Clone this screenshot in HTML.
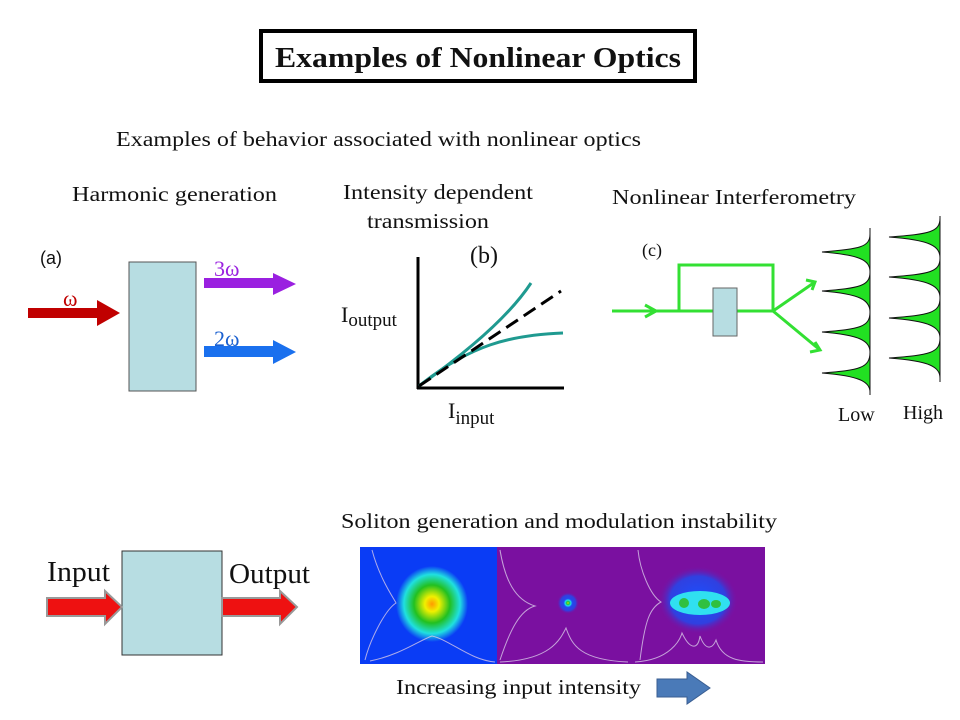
<!DOCTYPE html>
<html><head><meta charset="utf-8"><style>
html,body{margin:0;padding:0;background:#fff;width:960px;height:720px;overflow:hidden}
svg{display:block}
text{font-family:"Liberation Serif",serif;fill:#111}
</style></head><body>
<svg width="960" height="720" viewBox="0 0 960 720" xmlns="http://www.w3.org/2000/svg">
<defs>
<radialGradient id="g1" cx="0.5" cy="0.5" r="0.5">
<stop offset="0" stop-color="#ff9a00"/><stop offset="0.2" stop-color="#f0f000"/><stop offset="0.5" stop-color="#22c020"/><stop offset="0.78" stop-color="#20e0e0"/><stop offset="1" stop-color="#0a3cf5"/>
</radialGradient>
<radialGradient id="g2" cx="0.5" cy="0.5" r="0.5">
<stop offset="0" stop-color="#e0e000"/><stop offset="0.3" stop-color="#20c040"/><stop offset="0.6" stop-color="#20e0f0"/><stop offset="1" stop-color="#1030ff" stop-opacity="0"/>
</radialGradient>
<radialGradient id="g3" cx="0.5" cy="0.5" r="0.5">
<stop offset="0" stop-color="#1a50ff"/><stop offset="0.7" stop-color="#3040e0"/><stop offset="1" stop-color="#7a10a0" stop-opacity="0"/>
</radialGradient>
</defs>

<!-- title -->
<rect x="261" y="31" width="434" height="50" fill="#fff" stroke="#000" stroke-width="4"/>
<text x="478" y="67" font-size="29" font-weight="bold" text-anchor="middle" textLength="406" lengthAdjust="spacingAndGlyphs">Examples of Nonlinear Optics</text>

<text x="116" y="146" font-size="21" textLength="525" lengthAdjust="spacingAndGlyphs">Examples of behavior associated with nonlinear optics</text>
<text x="72" y="201" font-size="21" textLength="205" lengthAdjust="spacingAndGlyphs">Harmonic generation</text>
<text x="343" y="199" font-size="21" textLength="190" lengthAdjust="spacingAndGlyphs">Intensity dependent</text>
<text x="367" y="228" font-size="21" textLength="122" lengthAdjust="spacingAndGlyphs">transmission</text>
<text x="612" y="204" font-size="21" textLength="244" lengthAdjust="spacingAndGlyphs">Nonlinear Interferometry</text>

<!-- (a) -->
<text x="40" y="264" font-size="18" style="font-family:'Liberation Sans',sans-serif">(a)</text>
<rect x="129" y="262" width="67" height="129" fill="#b7dde2" stroke="#555" stroke-width="1"/>
<text x="63" y="306" font-size="22" style="fill:#c00000">ω</text>
<polygon points="28,308 97,308 97,300 120,313 97,326 97,318 28,318" fill="#c00000"/>
<text x="214" y="276" font-size="22" style="fill:#9a20e0">3ω</text>
<polygon points="204,278 273,278 273,273 296,284 273,295 273,288 204,288" fill="#9a20e0"/>
<text x="214" y="346" font-size="22" style="fill:#1a60d0">2ω</text>
<polygon points="204,346 273,346 273,340 296,352 273,364 273,357 204,357" fill="#1a70ee"/>

<!-- (b) -->
<text x="470" y="263" font-size="24">(b)</text>
<line x1="418" y1="257" x2="418" y2="389" stroke="#000" stroke-width="3"/>
<line x1="417" y1="388" x2="564" y2="388" stroke="#000" stroke-width="3"/>
<path d="M419,386 C470,350 510,315 531,283" stroke="#1f9a90" stroke-width="3" fill="none"/>
<path d="M419,386 C470,345 510,335 563,333" stroke="#1f9a90" stroke-width="3" fill="none"/>
<line x1="419" y1="386" x2="561" y2="291" stroke="#000" stroke-width="3" stroke-dasharray="14,7"/>
<text x="341" y="322" font-size="22">I<tspan font-size="19" dy="4">output</tspan></text>
<text x="448" y="418" font-size="22">I<tspan font-size="19" dy="6">input</tspan></text>

<!-- (c) -->
<text x="642" y="256" font-size="18">(c)</text>
<g stroke="#33e033" stroke-width="3" fill="none">
<line x1="612" y1="311" x2="773" y2="311"/>
<polyline points="679,311 679,265 773,265 773,311"/>
<polyline points="645,305 656,311 645,317"/>
<line x1="773" y1="311" x2="815" y2="282"/>
<line x1="773" y1="311" x2="820" y2="350"/>
<polyline points="806,280 815,282 812,290"/>
<polyline points="810,352 820,350 815,342"/>
</g>
<rect x="713" y="288" width="24" height="48" fill="#b7dde2" stroke="#666" stroke-width="1"/>

<g fill="#22e022" stroke="#111" stroke-width="1">
<path d="M870,228 L870,395" fill="none"/>
<path d="M870,234 C870,247 860,249 822,252 C860,255 870,260 870,272 Z"/>
<path d="M870,272 C870,286 860,288 822,291 C860,294 870,300 870,312 Z"/>
<path d="M870,312 C870,327 860,329 822,332 C860,335 870,341 870,352 Z"/>
<path d="M870,352 C870,368 860,370 822,373 C860,376 870,382 870,392 Z"/>
<path d="M940,216 L940,382" fill="none"/>
<path d="M940,218 C940,232 930,234 889,237 C930,240 940,246 940,258 Z"/>
<path d="M940,258 C940,272 930,274 889,277 C930,280 940,286 940,298 Z"/>
<path d="M940,298 C940,313 930,315 889,318 C930,321 940,327 940,338 Z"/>
<path d="M940,338 C940,353 930,355 889,358 C930,361 940,367 940,378 Z"/>
</g>
<text x="838" y="421" font-size="20">Low</text>
<text x="903" y="419" font-size="20">High</text>

<!-- bottom left -->
<rect x="122" y="551" width="100" height="104" fill="#b7dde2" stroke="#333" stroke-width="1"/>
<text x="47" y="581" font-size="28" textLength="63" lengthAdjust="spacingAndGlyphs">Input</text>
<text x="229" y="583" font-size="28" textLength="81" lengthAdjust="spacingAndGlyphs">Output</text>
<polygon points="47,598 105,598 105,591 122,607 105,624 105,616 47,616" fill="#ee1111" stroke="#999" stroke-width="2"/>
<polygon points="222,598 280,598 280,591 297,607 280,624 280,616 222,616" fill="#ee1111" stroke="#999" stroke-width="2"/>

<!-- soliton -->
<text x="341" y="528" font-size="21" textLength="436" lengthAdjust="spacingAndGlyphs">Soliton generation and modulation instability</text>
<rect x="360" y="547" width="137" height="117" fill="#0a3cf5"/>
<ellipse cx="432" cy="604" rx="36" ry="38" fill="url(#g1)"/>
<rect x="497" y="547" width="134" height="117" fill="#7a10a0"/>
<circle cx="568" cy="603" r="11" fill="url(#g3)"/>
<circle cx="568" cy="603" r="5" fill="url(#g2)"/>
<rect x="631" y="547" width="134" height="117" fill="#7a10a0"/>
<ellipse cx="698" cy="600" rx="40" ry="34" fill="url(#g3)"/>
<ellipse cx="700" cy="603" rx="30" ry="12" fill="#30e0f0"/>
<circle cx="684" cy="603" r="5" fill="#30c040"/>
<ellipse cx="704" cy="604" rx="6" ry="5" fill="#30c040"/>
<ellipse cx="716" cy="604" rx="5" ry="4" fill="#30c040"/>
<g stroke="#d8c8e8" stroke-width="1" fill="none" opacity="0.8">
<path d="M372,550 C380,580 395,600 396,603 C385,610 370,640 365,660"/>
<path d="M370,661 C400,655 420,640 432,636 C450,640 470,660 495,662"/>
<path d="M500,660 C510,630 520,610 535,606 C515,600 505,580 500,550"/>
<path d="M500,662 C550,660 560,640 566,628 C572,645 580,660 628,662"/>
<path d="M640,660 C645,620 650,608 661,602 C650,595 640,570 638,550"/>
<path d="M635,662 C670,660 680,640 682,633 C690,650 698,650 700,636 C705,650 712,650 716,640 C722,660 740,662 763,662"/>
</g>
<text x="396" y="694" font-size="21" textLength="245" lengthAdjust="spacingAndGlyphs">Increasing input intensity</text>
<polygon points="657,679 687,679 687,672 710,688 687,704 687,697 657,697" fill="#4a7ab8" stroke="#3a5e92" stroke-width="1"/>
</svg>
</body></html>
